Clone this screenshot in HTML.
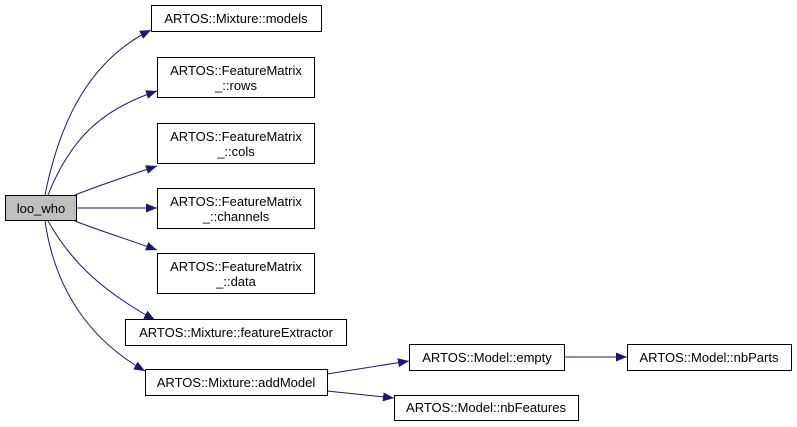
<!DOCTYPE html>
<html><head><meta charset="utf-8"><style>
html,body{margin:0;padding:0;background:#fff;}
svg{display:block}
text{font-family:"Liberation Sans",sans-serif;font-size:13px;fill:#000}
</style></head><body>
<svg width="797" height="427" viewBox="0 0 797 427" xmlns="http://www.w3.org/2000/svg">
<defs><marker id="a" markerWidth="11" markerHeight="9" refX="11" refY="4.5" orient="auto" markerUnits="userSpaceOnUse"><path d="M0,0 L11,4.5 L0,9 Z" fill="#191970"/></marker></defs>
<g fill="none" stroke="#191970" stroke-width="1" marker-end="url(#a)">
<path d="M45,195 C60,120 90,60 151,30"/>
<path d="M48,195 C70,140 100,110 157,91"/>
<path d="M75,195 C100,185 130,175 157,166"/>
<path d="M76,208 L157,208"/>
<path d="M75,221 C100,231 130,240 157,250"/>
<path d="M48,221 C70,260 100,290 155,320"/>
<path d="M45,221 C55,290 90,340 145,371"/>
<path d="M327,374 L409,361"/>
<path d="M327,391 L394,398"/>
<path d="M564,357 L627,357"/>
</g>
<g stroke="#000" stroke-width="1" fill="#fff">
<rect x="5.5" y="195.5" width="71" height="25" fill="#bfbfbf"/>
<rect x="151.5" y="5.5" width="170" height="26"/>
<rect x="157.5" y="57.5" width="157" height="40"/>
<rect x="157.5" y="123.5" width="157" height="40"/>
<rect x="157.5" y="188.5" width="157" height="40"/>
<rect x="157.5" y="253.5" width="157" height="40"/>
<rect x="125.5" y="319.5" width="221" height="26"/>
<rect x="145.5" y="369.5" width="182" height="26"/>
<rect x="409.5" y="344.5" width="155" height="26"/>
<rect x="627.5" y="344.5" width="164" height="26"/>
<rect x="394.5" y="395.5" width="184" height="25"/>
</g>
<g text-anchor="middle">
<text x="41" y="213">loo_who</text>
<text x="236" y="23">ARTOS::Mixture::models</text>
<text x="236" y="75">ARTOS::FeatureMatrix</text><text x="236" y="90">_::rows</text>
<text x="236" y="141">ARTOS::FeatureMatrix</text><text x="236" y="156">_::cols</text>
<text x="236" y="206">ARTOS::FeatureMatrix</text><text x="236" y="221">_::channels</text>
<text x="236" y="271">ARTOS::FeatureMatrix</text><text x="236" y="286">_::data</text>
<text x="236" y="337">ARTOS::Mixture::featureExtractor</text>
<text x="236" y="387">ARTOS::Mixture::addModel</text>
<text x="487" y="362">ARTOS::Model::empty</text>
<text x="709" y="362">ARTOS::Model::nbParts</text>
<text x="486" y="412">ARTOS::Model::nbFeatures</text>
</g>
</svg>
</body></html>
